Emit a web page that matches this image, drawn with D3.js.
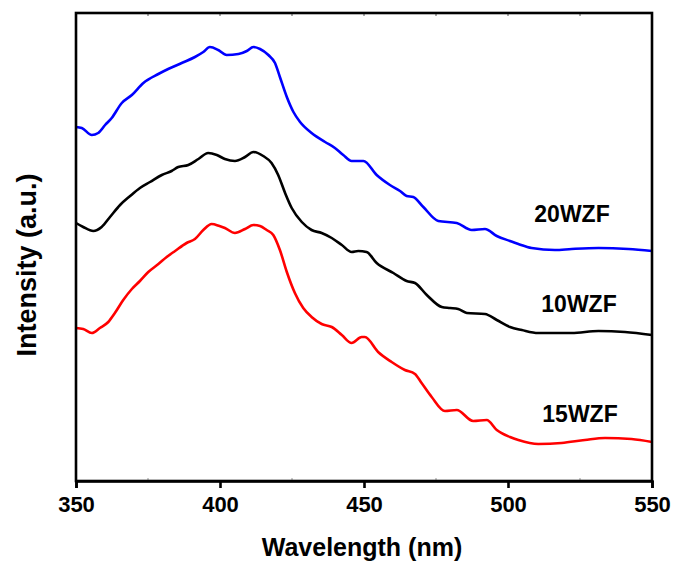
<!DOCTYPE html>
<html>
<head>
<meta charset="utf-8">
<script src="https://cdn.jsdelivr.net/npm/d3@7"></script>
<style>
  body { margin: 0; background: #fff; }
  svg { display: block; font-family: "Liberation Sans", Arial, sans-serif; }
</style>
</head>
<body>
<svg id="chart" width="673" height="564"></svg>
<script>
// Wavelength (nm) and intensity (a.u.)
const wl20 = [350,352,355.5,357.7,360.1,362.4,365.9,369.4,373.4,378.6,382,386.7,391.3,394.2,396.5,399.4,402.3,406.4,409.3,411.6,413.9,416.8,419.1,420.8,423.2,425.5,427.8,431.8,436.5,439.9,442.8,445.7,449.8,454.4,459,462.5,464.8,467.1,470.6,475.8,482.2,487.4,492,496.1,500.7,503.6,508.2,516.3,522.1,531.4,541.8,550];
const int20 = [354,353,346,348,356,363,378,386,398,407,412,418,424,429,434,431,426,427,430,434,432,426,418,404,384,369,359,348,339,333,326,320,320,306,296,290,285,284,274,260,258,251,252,245,240,237,233,231,232,233,232,230];

const wl10 = [350,352.5,356,358.9,361.8,365.3,368.8,372.2,375.7,379.8,383.2,385.5,389,392.5,395.9,398.9,401.7,405.2,408.7,411.6,415,417.9,420.2,422.6,424.9,428.4,431.8,435.3,438.8,442.3,445.7,448,450.9,454.4,460.2,464.8,467.7,471.8,477,479.9,482.7,485.7,492,496.1,500.7,504.8,510.5,522.1,531.4,540.6,550];
const int10 = [258,254,250,254,264,276,285,293,299,306,310,314,316,322,328,326,322,320,324,329,325,318,306,288,273,259,251,248,243,236,229,230,229,218,208,200,198,186,174,173,172,168,167,161,154,151,148,148,150,149,146];

const wl15 = [350,352.5,355.5,358.3,361.2,363.5,366.4,369.4,372.2,375.1,378.6,381.5,384.4,388.4,391.3,394.2,397.1,399.8,401.7,405.2,408.7,411.6,413.9,416.2,418.5,420.8,423.2,426,428.9,431.8,435.3,438.8,442.3,445.7,449.2,450.3,454.9,459.6,464.2,467.7,470,473.5,478.1,482.2,487.9,492.6,496.1,500.7,503.6,510.5,518.6,526.7,533.7,542.9,550];
const int15 = [153,152,148,153,159,168,181,192,200,209,217,224,230,238,242,251,257,255,253,248,252,256,255,251,246,231,209,188,173,164,157,154,146,138,144,144,129,119,111,107,98,84,70,71,60,61,51,44,41,37,38,41,43,42,39];

const seriesNames = ["20WZF", "10WZF", "15WZF"];
const seriesColors = ["#0000ff", "#000000", "#ff0000"];
const xTicks = [350, 400, 450, 500, 550];
const xMinorTicks = [375, 425, 475, 525];

const svg = d3.select("#chart");
const m = { left: 76, right: 21, top: 13, bottom: 83 };
const W = 673, H = 564;
const x = d3.scaleLinear().domain([350, 550]).range([m.left, W - m.right]);
const y = d3.scaleLinear().domain([0, 468]).range([H - m.bottom, m.top]);

const series = [
  { name: seriesNames[0], color: seriesColors[0], wl: wl20, v: int20, labelX: 572, labelY: 222 },
  { name: seriesNames[1], color: seriesColors[1], wl: wl10, v: int10, labelX: 579, labelY: 312 },
  { name: seriesNames[2], color: seriesColors[2], wl: wl15, v: int15, labelX: 580, labelY: 422 }
];

const line = d3.line().x(d => x(d[0])).y(d => y(d[1])).curve(d3.curveMonotoneX);

const plot = svg.append("g");
series.forEach(s => {
  plot.append("path")
    .datum(s.wl.map((w, i) => [w, s.v[i]]))
    .attr("fill", "none")
    .attr("stroke", s.color)
    .attr("stroke-width", 2.6)
    .attr("stroke-linejoin", "round")
    .attr("d", line);
});

// minor inward ticks (bottom and top)
const minor = svg.append("g");
const allTop = xTicks.concat(xMinorTicks);
allTop.forEach(t => {
  minor.append("line").attr("x1", x(t)).attr("x2", x(t))
    .attr("y1", y.range()[1]).attr("y2", y.range()[1] + 3)
    .attr("stroke", "#555").attr("stroke-width", 1);
});
xMinorTicks.forEach(t => {
  minor.append("line").attr("x1", x(t)).attr("x2", x(t))
    .attr("y1", y.range()[0]).attr("y2", y.range()[0] - 3)
    .attr("stroke", "#999").attr("stroke-width", 1);
});

// frame
svg.append("rect")
  .attr("x", x.range()[0]).attr("y", y.range()[1])
  .attr("width", x.range()[1] - x.range()[0])
  .attr("height", y.range()[0] - y.range()[1])
  .attr("fill", "none").attr("stroke", "#000").attr("stroke-width", 2.6);

// bottom axis
const xAxis = svg.append("g")
  .attr("transform", `translate(0,${y.range()[0]})`)
  .call(d3.axisBottom(x).tickValues(xTicks).tickSize(7).tickPadding(8).tickFormat(d3.format("d")));
xAxis.select(".domain").attr("stroke-width", 2.6);
xAxis.selectAll(".tick line").attr("stroke-width", 2.6);
xAxis.selectAll(".tick text")
  .attr("font-size", 22).attr("font-weight", "bold").attr("fill", "#000")
  .attr("font-family", "Liberation Sans, Arial, sans-serif");

svg.append("text")
  .attr("x", (x.range()[0] + x.range()[1]) / 2 - 2).attr("y", 556)
  .attr("text-anchor", "middle")
  .attr("font-size", 25).attr("font-weight", "bold")
  .text("Wavelength (nm)");

svg.append("text")
  .attr("transform", `translate(36,${(y.range()[0] + y.range()[1]) / 2 + 18}) rotate(-90)`)
  .attr("text-anchor", "middle")
  .attr("font-size", 27).attr("font-weight", "bold")
  .text("Intensity (a.u.)");

series.forEach(s => {
  svg.append("text")
    .attr("x", s.labelX).attr("y", s.labelY)
    .attr("text-anchor", "middle")
    .attr("font-size", 23).attr("font-weight", "bold")
    .text(s.name);
});
</script>
</body>
</html>
